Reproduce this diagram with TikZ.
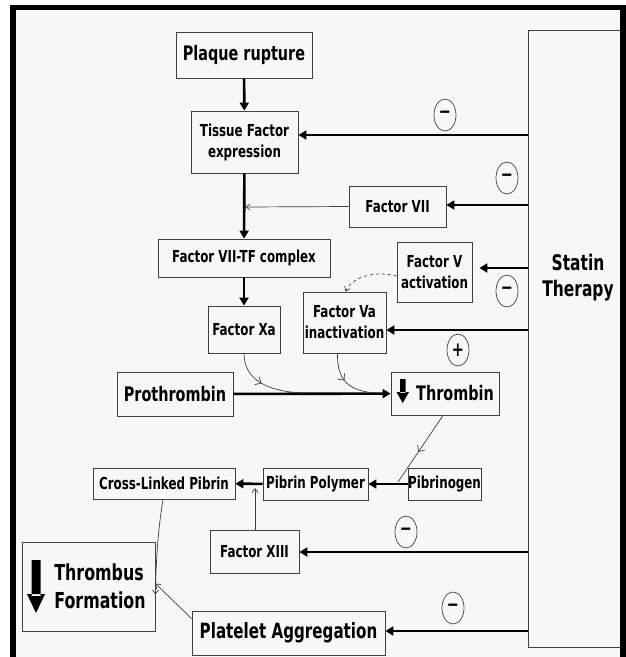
\documentclass[tikz,border=0pt]{standalone}
\usepackage{fontspec}
\setmainfont[FakeStretch=0.72]{DejaVu Sans}
\usetikzlibrary{arrows.meta,decorations.markings,shapes.geometric}
\begin{document}
\begin{tikzpicture}[x=1pt,y=-1pt,
  box/.style={draw=black!75, line width=0.8pt, inner sep=0pt, align=center,
    font=\bfseries\fontsize{16.5}{21}\selectfont},
  bigbox/.style={box, font=\bfseries\fontsize{20}{24}\selectfont},
  thickarrow/.style={line width=2.6pt, -{Triangle[length=8pt,width=9pt]}},
  thinarrow/.style={line width=0.7pt, draw=black!75, -{Straight Barb[length=4pt,width=6pt]}},
  thinline/.style={line width=0.7pt, draw=black!75},
  midarrow/.style={postaction={decorate}, decoration={markings,
    mark=at position #1 with {\arrow[black!75,line width=0.7pt]{Straight Barb[length=5pt,width=9pt]}}}},
  sign/.style={ellipse, draw=black!75, line width=0.7pt, inner sep=0pt,
    minimum width=22pt, minimum height=32pt, font=\bfseries\fontsize{20}{20}\selectfont}]
% frame and background
\useasboundingbox (0,0) rectangle (626,657);
\fill[white] (0,0) rectangle (626,657);
\fill[black] (10,5) rectangle (626,657);
\fill[black!3] (16,10) rectangle (620,657);
% statin therapy panel
\draw[line width=0.8pt, draw=black!75] (620,30) -- (528,30) -- (528,647) -- (620,647);
\node[font=\bfseries\fontsize{21.5}{26}\selectfont, align=center] (statin) at (578,278) {Statin\\Therapy};
% boxes
\node[bigbox, minimum width=136, minimum height=46] (plaque) at (244,55) {Plaque rupture};
\node[box, minimum width=107, minimum height=62] (tissue) at (244.5,142) {Tissue Factor\\expression};
\node[box, minimum width=97, minimum height=41] (f7) at (397.5,206.5) {Factor VII};
\node[box, minimum width=172, minimum height=38] (f7tf) at (244,258) {Factor VII-TF complex};
\node[box, minimum width=72, minimum height=47] (fxa) at (244,329.5) {Factor Xa};
\node[box, minimum width=83, minimum height=61] (fva) at (344.5,322.5) {Factor Va\\inactivation};
\node[box, minimum width=75, minimum height=60] (fv) at (434.5,272) {Factor V\\activation};
\node[bigbox, minimum width=116, minimum height=44] (prothrombin) at (175,394) {Prothrombin};
\node[bigbox, minimum width=108, minimum height=43] (thrombin) at (445,393.5) {\hspace*{20pt}Thrombin};
\node[box, minimum width=73, minimum height=32] (fibrinogen) at (444.5,484) {Pibrinogen};
\node[box, minimum width=105, minimum height=32] (fibpoly) at (315.5,484) {Pibrin Polymer};
\node[box, minimum width=142, minimum height=31] (crosslinked) at (164,483.5) {Cross-Linked Pibrin};
\node[box, minimum width=89, minimum height=43] (f13) at (254.5,551.5) {Factor XIII};
\node[box, minimum width=133, minimum height=89] (thrombus) at (88.5,586.5) {};
\node[font=\bfseries\fontsize{22}{28}\selectfont, align=left] (thrombustext) at (100,586) {Thrombus\\Formation};
\node[bigbox, minimum width=193, minimum height=44, font=\bfseries\fontsize{21}{24}\selectfont] (platelet) at (288.5,633) {Platelet Aggregation};
% big down arrows
\fill (400,379) rectangle (405.5,393) (396.5,392) -- (409,392) -- (402.75,403) -- cycle;
\fill (31.5,560) rectangle (40.5,596) (27,594) -- (45,594) -- (36,613) -- cycle;
% signs
\node[sign] (m1) at (445,115) {−};
\node[sign] (m2) at (507,178) {−};
\node[sign] (m3) at (507,291) {−};
\node[sign] (p1) at (458,350) {+};
\node[sign] (m4) at (406,532) {−};
\node[sign] (m5) at (453,608) {−};
% main pathway
\draw[thickarrow] (plaque) -- (tissue);
\draw[thickarrow] (tissue) -- (f7tf);
\draw[thickarrow] (f7tf) -- (fxa);
\draw[thickarrow] (prothrombin) -- (thrombin);
\draw[thickarrow] (fibrinogen) -- (fibpoly);
\draw[thickarrow] (fibpoly) -- (crosslinked);
% junctions
\coordinate (j7) at (245.5,207);
\coordinate (jxa) at (305,393);
\coordinate (jva) at (376,393);
\coordinate (jfg) at (398,482);
\coordinate (j13) at (255,488);
\draw[thinarrow] (f7.west) -- (j7);
\draw[thinline, midarrow=0.45] (fxa.south) .. controls (244,380) and (268,392) .. (jxa);
\draw[thinline, midarrow=0.45] ([xshift=-7pt]fva.south) .. controls (337,382) and (350,391) .. (jva);
\draw[thinline, midarrow=0.55] ([xshift=-2pt]thrombin.south) -- (jfg);
\draw[thinarrow] (f13.north -| j13) -- (j13);
\draw[thinarrow, dashed] ([yshift=-4pt]fv.west) .. controls (372,270) and (352,278) .. ([xshift=1pt]fva.north);
\draw[thinarrow] ([xshift=-1pt]crosslinked.south) .. controls (158,530) and (156,560) .. ([yshift=-8pt]thrombus.east);
\draw[thinarrow] ([yshift=-8pt]platelet.north west) -- ([yshift=3pt]thrombus.east);
% statin arrows
\coordinate (s1) at (528,135);
\coordinate (s2) at (528,205);
\coordinate (s3) at (528,268);
\coordinate (s4) at (528,330);
\coordinate (s5) at (528,552);
\coordinate (s6) at (528,631);
\draw[thickarrow] (s1) -- (s1 -| tissue.east);
\draw[thickarrow] (s2) -- (s2 -| f7.east);
\draw[thickarrow, shorten >=7pt] (s3) -- (s3 -| fv.east);
\draw[thickarrow] (s4) -- (s4 -| fva.east);
\draw[thickarrow] (s5) -- (s5 -| f13.east);
\draw[thickarrow] (s6) -- (s6 -| platelet.east);
\end{tikzpicture}
\end{document}
